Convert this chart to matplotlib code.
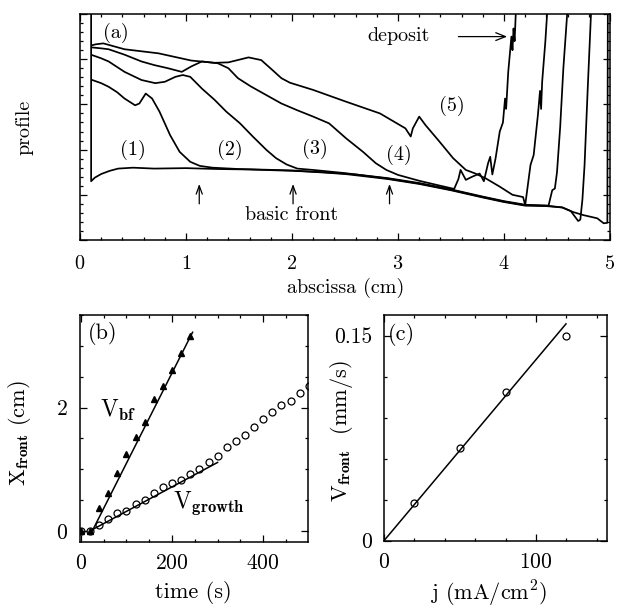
import numpy as np
import matplotlib
matplotlib.use('Agg')
import matplotlib.pyplot as plt
from matplotlib.ticker import MultipleLocator, FixedLocator, FixedFormatter

plt.rcParams['font.family'] = 'serif'
plt.rcParams['font.serif'] = ['cmr10']
plt.rcParams['mathtext.fontset'] = 'cm'
plt.rcParams['axes.unicode_minus'] = False
plt.rcParams['axes.formatter.use_mathtext'] = True

# ---------------- panel (a) : profiles ----------------
c1_x = [0.105, 0.105, 0.14, 0.2, 0.28, 0.36, 0.5, 0.7, 1.0, 1.3, 1.6, 2.0, 2.3, 2.6, 2.9, 3.2, 3.5,
        3.8, 4.0, 4.2, 4.4, 4.55, 4.65, 4.75, 4.88, 4.94, 4.975, 4.98]
c1_y = [5.5, 1.30, 1.38, 1.46, 1.53, 1.58, 1.60, 1.58, 1.59, 1.57, 1.56, 1.53, 1.50, 1.45, 1.37, 1.26, 1.12,
        0.96, 0.86, 0.78, 0.76, 0.72, 0.62, 0.55, 0.48, 0.37, 0.38, 5.5]

c2_x = [0.115, 0.2, 0.27, 0.35, 0.42, 0.52, 0.56, 0.62, 0.68, 0.75, 0.85, 0.94, 1.04, 1.13, 1.25, 1.5,
        2.0, 2.5, 2.9, 3.2, 3.5, 3.8, 4.0, 4.2, 4.4, 4.55, 4.63, 4.70, 4.72, 4.74, 4.76, 4.79, 4.83]
c2_y = [3.54, 3.47, 3.39, 3.27, 3.13, 2.98, 3.02, 3.24, 3.13, 2.84, 2.32, 1.95, 1.73, 1.64, 1.60, 1.57,
        1.54, 1.46, 1.35, 1.24, 1.10, 0.94, 0.84, 0.76, 0.75, 0.72, 0.64, 0.42, 0.45, 0.9, 1.66, 3.36, 5.5]

c3_x = [0.115, 0.2, 0.27, 0.42, 0.58, 0.71, 0.8, 0.90, 0.97, 1.04, 1.15, 1.27, 1.38, 1.51, 1.63, 1.76,
        1.85, 1.95, 2.05, 2.2, 2.5, 2.9, 3.2, 3.5, 3.8, 4.0, 4.2, 4.42, 4.455, 4.48, 4.50, 4.53, 4.56,
        4.59, 4.61]
c3_y = [4.09, 4.02, 3.95, 3.72, 3.54, 3.47, 3.50, 3.61, 3.65, 3.61, 3.35, 3.10, 2.84, 2.58, 2.29, 1.99,
        1.81, 1.67, 1.58, 1.55, 1.48, 1.36, 1.25, 1.11, 0.95, 0.85, 0.77, 0.76, 1.10, 1.14, 1.5, 2.5, 3.8,
        4.8, 5.5]

c4_x = [0.115, 0.2, 0.27, 0.42, 0.58, 0.7, 0.83, 0.96, 1.05, 1.15, 1.30, 1.40, 1.49, 1.61, 1.77, 1.90,
        2.05, 2.20, 2.35, 2.51, 2.67, 2.79, 2.89, 3.0, 3.2, 3.4, 3.53, 3.57, 3.59, 3.64, 3.70, 3.77, 3.81,
        3.85, 3.87, 3.89, 3.92, 3.96, 3.99, 4.01, 4.02, 4.04, 4.07, 4.08, 4.09, 4.1, 4.12]
c4_y = [4.26, 4.24, 4.22, 4.10, 3.95, 3.87, 3.80, 3.72, 3.84, 3.95, 3.91, 3.80, 3.58, 3.40, 3.19, 3.02,
        2.87, 2.73, 2.58, 2.25, 1.95, 1.70, 1.55, 1.44, 1.31, 1.20, 1.13, 1.35, 1.55, 1.33, 1.40, 1.47, 1.30,
        1.70, 1.84, 1.45, 1.80, 2.40, 2.6, 3.13, 2.9, 3.72, 4.5, 4.2, 4.68, 4.4, 5.5]

c5_x = [0.115, 0.15, 0.22, 0.42, 0.74, 1.05, 1.27, 1.40, 1.59, 1.71, 1.82, 1.90, 1.98, 2.20, 2.51, 2.83,
        3.07, 3.12, 3.14, 3.20, 3.26, 3.39, 3.52, 3.64, 3.73, 3.83, 3.96, 4.08, 4.18, 4.20, 4.25, 4.28,
        4.32, 4.34, 4.35, 4.36, 4.39, 4.42]
c5_y = [4.31, 4.33, 4.35, 4.22, 4.13, 3.97, 3.92, 3.93, 4.04, 3.98, 3.75, 3.58, 3.48, 3.32, 3.06, 2.80,
        2.47, 2.29, 2.47, 2.73, 2.54, 2.18, 1.81, 1.55, 1.47, 1.36, 1.18, 1.0, 0.95, 0.77, 1.66, 1.88,
        2.77, 3.3, 2.9, 3.50, 4.39, 5.5]

profiles = [(c1_x, c1_y), (c2_x, c2_y), (c3_x, c3_y), (c4_x, c4_y), (c5_x, c5_y)]
curve_labels = ['(1)', '(2)', '(3)', '(4)', '(5)']
curve_label_x = [0.50, 1.41, 2.22, 3.01, 3.51]
curve_label_y = [1.99, 1.99, 2.01, 1.88, 2.96]
front_arrows_x = [1.125, 2.01, 2.92]

# ---------------- panel (b) : front position vs time ----------------
bf_t = [0, 20, 40, 60, 80, 100, 120, 140, 160, 180, 200, 220, 240]
bf_x = [0.0, 0.0, 0.37, 0.62, 0.94, 1.24, 1.52, 1.77, 2.14, 2.35, 2.61, 2.89, 3.16]
gr_t = [0, 20, 40, 60, 80, 100, 120, 140, 160, 180, 200, 220, 240, 260, 280, 300, 320, 340, 360,
        380, 400, 420, 440, 460, 480, 500]
gr_x = [0.0, 0.0, 0.09, 0.19, 0.29, 0.33, 0.44, 0.50, 0.61, 0.71, 0.78, 0.83, 0.93, 1.00, 1.11, 1.22,
        1.36, 1.46, 1.56, 1.68, 1.82, 1.93, 2.04, 2.11, 2.24, 2.35]
bf_fit_t = [25, 245]
bf_fit_x = [0.0, 3.22]
gr_fit_t = [20, 300]
gr_fit_x = [0.0, 1.11]

# ---------------- panel (c) : front velocity vs current ----------------
j_vals = [20, 50, 80, 120]
v_vals = [0.0274, 0.0676, 0.1086, 0.150]
fit_j = [0, 119.8]
fit_v = [0.0, 0.1586]

FA = 14.5
FB = 15.5

fig = plt.figure(figsize=(6.17, 6.08), dpi=100)
W, H = 617.0, 608.0
axA = fig.add_axes([80 / W, 1 - 240 / H, 530 / W, 226 / H])
axB = fig.add_axes([80 / W, 1 - 542 / H, 228.3 / W, 227 / H])
axC = fig.add_axes([384 / W, 1 - 540.7 / H, 223.3 / W, 225.7 / H])

for ax in (axA, axB, axC):
    for s in ax.spines.values():
        s.set_linewidth(1.1)
    ax.tick_params(which='both', direction='in', top=True, right=True, width=0.9)
    ax.tick_params(which='major', length=5)
    ax.tick_params(which='minor', length=2.5)

# ---- (a)
for xs, ys in profiles:
    axA.plot(xs, ys, color='black', lw=1.25)
axA.set_xlim(0, 5)
axA.set_ylim(0, 5)
axA.xaxis.set_major_locator(MultipleLocator(1))
axA.xaxis.set_minor_locator(MultipleLocator(0.2))
axA.yaxis.set_major_locator(MultipleLocator(1))
axA.yaxis.set_minor_locator(MultipleLocator(0.2))
axA.tick_params(axis='y', labelleft=False)
axA.tick_params(axis='x', labelsize=FA, pad=10.5)
axA.set_xlabel('abscissa (cm)', fontsize=FA)
axA.xaxis.set_label_coords(0.502, -0.168)
axA.set_ylabel('profile', fontsize=FA)
axA.yaxis.set_label_coords(-0.088, 0.5)
axA.text(0.34, 4.58, '(a)', fontsize=FA, ha='center', va='center')
for lab, lx, ly in zip(curve_labels, curve_label_x, curve_label_y):
    axA.text(lx, ly, lab, fontsize=FA, ha='center', va='center')
axA.text(3.01, 4.51, 'deposit', fontsize=FA, ha='center', va='center')
axA.annotate('', xy=(4.03, 4.5), xytext=(3.57, 4.5),
             arrowprops=dict(arrowstyle='->,head_length=0.7,head_width=0.28', lw=0.9, color='black',
                             shrinkA=0, shrinkB=0))
for ax_x in front_arrows_x:
    axA.annotate('', xy=(ax_x, 1.24), xytext=(ax_x, 0.80),
                 arrowprops=dict(arrowstyle='->,head_length=0.6,head_width=0.22', lw=0.9, color='black',
                                 shrinkA=0, shrinkB=0))
axA.text(2.0, 0.55, 'basic front', fontsize=FA, ha='center', va='center')

# ---- (b)
axB.plot(bf_fit_t, bf_fit_x, color='black', lw=1.1)
axB.plot(gr_fit_t, gr_fit_x, color='black', lw=1.1)
axB.plot(bf_t, bf_x, linestyle='none', marker='^', markersize=3.8, color='black')
axB.plot(gr_t, gr_x, linestyle='none', marker='o', markersize=5, markerfacecolor='none',
         markeredgecolor='black', markeredgewidth=0.9)
axB.set_xlim(-2, 499)
axB.set_ylim(-0.18, 3.5)
axB.xaxis.set_major_locator(MultipleLocator(200))
axB.xaxis.set_minor_locator(MultipleLocator(50))
axB.yaxis.set_major_locator(MultipleLocator(2))
axB.yaxis.set_minor_locator(MultipleLocator(0.5))
axB.tick_params(labelsize=FB, pad=8.5)
axB.set_xlabel('time (s)', fontsize=FB + 0.5)
axB.xaxis.set_label_coords(0.498, -0.172)
axB.set_ylabel(r'$\mathrm{X}_{\mathbf{front}}$ (cm)', fontsize=FB + 0.5)
axB.yaxis.set_label_coords(-0.204, 0.479)
axB.text(15, 3.2, '(b)', fontsize=FB + 0.5, ha='left', va='center')
axB.text(41.7, 1.85, r'$\mathrm{V}_{\mathbf{bf}}$', fontsize=17, ha='left', va='baseline')
axB.text(202.7, 0.37, r'$\mathrm{V}_{\mathbf{growth}}$', fontsize=17, ha='left', va='baseline')

# ---- (c)
axC.plot(fit_j, fit_v, color='black', lw=1.1)
axC.plot(j_vals, v_vals, linestyle='none', marker='o', markersize=5, markerfacecolor='none',
         markeredgecolor='black', markeredgewidth=0.9)
axC.set_xlim(0, 147)
axC.set_ylim(0, 0.1651)
axC.xaxis.set_major_locator(MultipleLocator(100))
axC.xaxis.set_minor_locator(MultipleLocator(20))
axC.yaxis.set_major_locator(FixedLocator([0, 0.15]))
axC.yaxis.set_major_formatter(FixedFormatter(['0', '0.15']))
axC.yaxis.set_minor_locator(FixedLocator([0.03, 0.06, 0.09, 0.12]))
axC.tick_params(labelsize=FB, pad=8.5)
axC.set_xlabel(r'j (mA/cm$^{2}$)', fontsize=FB + 0.5)
axC.xaxis.set_label_coords(0.467, -0.168)
axC.set_ylabel(r'$\mathrm{V}_{\mathbf{front}}$  (mm/s)', fontsize=FB + 0.5)
axC.yaxis.set_label_coords(-0.13, 0.487)
axC.text(2.6, 0.1505, '(c)', fontsize=FB + 0.5, ha='left', va='center')

fig.savefig('out.png', dpi=100)
